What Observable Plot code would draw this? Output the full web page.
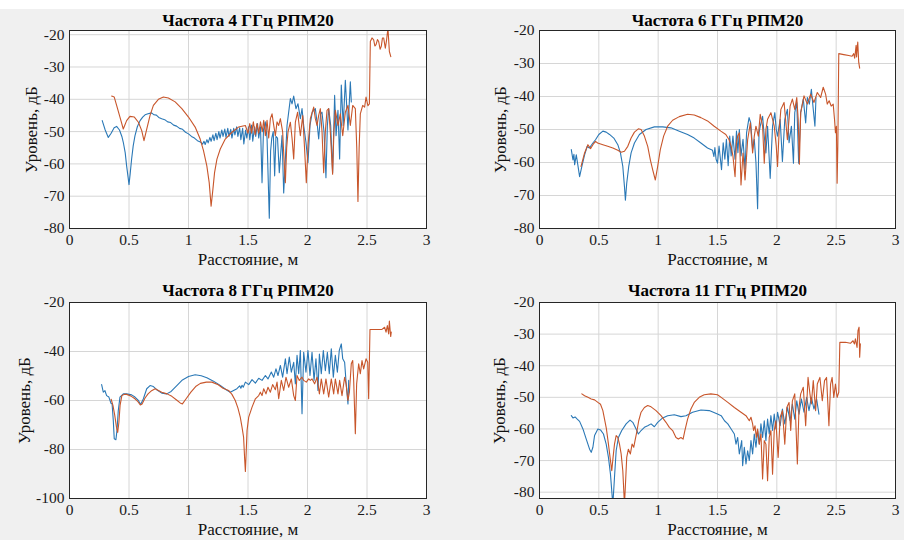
<!DOCTYPE html>
<html><head><meta charset="utf-8">
<script src="https://cdn.jsdelivr.net/npm/d3@7"></script>
<script src="https://cdn.jsdelivr.net/npm/@observablehq/plot@0.6"></script>
<style>
html,body{margin:0;padding:0;background:#f0f0f0;}
#wrap{position:relative;width:904px;height:540px;overflow:hidden;}
.topband{position:absolute;left:0;top:0;width:904px;height:9px;background:#fff;}
.cell{position:absolute;width:452px;height:270px;}
.cell svg, .cell svg text{font-family:"Liberation Serif","Times New Roman",serif !important;}
</style></head><body><div id="wrap"><div class="topband"></div></div>
<script>
// ---- Text ----
const titles = ["Частота 4 ГГц РПМ20", "Частота 6 ГГц РПМ20", "Частота 8 ГГц РПМ20", "Частота 11 ГГц РПМ20"];
const xLabel = "Расстояние, м";
const yLabel = "Уровень, дБ";
const xTicks = [0, 0.5, 1, 1.5, 2, 2.5, 3];
const yTicks10 = [-80, -70, -60, -50, -40, -30, -20];
const yTicks20 = [-100, -80, -60, -40, -20];

// ---- 4 GHz ---- [distance m, level dB]
const f4Blue = [[0.275,-46.6],[0.30,-49.5],[0.326,-51.8],[0.35,-50.5],[0.375,-48.8],[0.396,-48.4],[0.42,-49.5],[0.44,-51.5],[0.452,-53.3],[0.468,-56.5],[0.48,-60.6],[0.492,-64.0],[0.50,-66.4],[0.51,-63.0],[0.522,-58.5],[0.535,-54.5],[0.55,-51.3],[0.57,-48.5],[0.593,-46.6],[0.615,-45.5],[0.635,-44.8],[0.66,-44.5],[0.69,-44.2],[0.71,-44.8],[0.73,-44.9],[0.75,-45.6],[0.775,-46.0],[0.80,-46.3],[0.825,-47.0],[0.85,-47.2],[0.875,-48.0],[0.90,-48.3],[0.925,-49.0],[0.95,-49.3],[0.975,-50.2],[1.0,-50.7],[1.025,-51.5],[1.05,-52.0],[1.075,-52.8],[1.10,-53.2],[1.118,-53.9],[1.13,-53.0],[1.14,-54.0],[1.155,-52.5],[1.165,-53.5],[1.18,-51.8],[1.19,-53.0],[1.205,-51.0],[1.215,-52.8],[1.23,-50.5],[1.24,-52.5],[1.255,-50.0],[1.265,-52.0],[1.28,-49.5],[1.29,-51.5],[1.305,-49.2],[1.315,-51.8],[1.33,-49.0],[1.34,-51.5],[1.355,-49.3],[1.365,-52.0],[1.38,-49.0],[1.39,-51.0],[1.405,-48.5],[1.415,-51.5],[1.43,-48.8],[1.44,-52.5],[1.455,-49.0],[1.465,-53.8],[1.48,-49.5],[1.49,-52.0],[1.505,-48.5],[1.515,-52.5],[1.53,-48.0],[1.54,-53.0],[1.555,-48.5],[1.565,-51.5],[1.58,-47.5],[1.59,-52.0],[1.605,-48.5],[1.618,-65.8],[1.63,-49.5],[1.645,-47.0],[1.66,-52.0],[1.679,-76.8],[1.69,-56.0],[1.70,-52.0],[1.712,-50.0],[1.724,-63.7],[1.735,-51.5],[1.748,-52.0],[1.763,-62.7],[1.786,-51.2],[1.80,-69.0],[1.828,-48.1],[1.856,-39.8],[1.87,-41.4],[1.884,-39.0],[1.903,-42.9],[1.92,-41.4],[1.94,-46.0],[1.954,-42.9],[1.968,-48.1],[1.987,-53.3],[2.004,-59.6],[2.021,-48.1],[2.04,-44.0],[2.066,-42.9],[2.08,-47.1],[2.094,-52.3],[2.11,-44.5],[2.122,-44.0],[2.139,-50.2],[2.155,-64.3],[2.167,-48.1],[2.178,-42.9],[2.195,-48.1],[2.211,-62.7],[2.228,-38.8],[2.24,-51.3],[2.256,-43.4],[2.27,-58.5],[2.284,-35.6],[2.30,-48.1],[2.318,-34.1],[2.34,-49.5],[2.36,-34.6],[2.368,-40.8]];
const f4Orange = [[0.354,-39.0],[0.376,-39.3],[0.396,-41.9],[0.424,-45.5],[0.452,-49.2],[0.48,-46.6],[0.508,-45.3],[0.545,-45.5],[0.579,-47.1],[0.607,-49.7],[0.626,-52.8],[0.649,-49.2],[0.677,-45.0],[0.705,-41.9],[0.747,-40.0],[0.789,-39.3],[0.831,-39.6],[0.888,-40.8],[0.944,-42.9],[1.0,-45.5],[1.056,-48.6],[1.098,-52.3],[1.126,-55.9],[1.154,-60.6],[1.174,-65.8],[1.19,-73.1],[1.205,-67.9],[1.219,-62.7],[1.239,-58.5],[1.267,-55.4],[1.309,-52.3],[1.365,-50.2],[1.42,-48.6],[1.478,-48.1],[1.50,-50.5],[1.515,-47.5],[1.53,-50.5],[1.545,-47.0],[1.56,-51.0],[1.575,-47.5],[1.59,-50.5],[1.605,-47.0],[1.62,-50.0],[1.632,-46.5],[1.646,-51.3],[1.66,-46.5],[1.674,-52.0],[1.688,-46.0],[1.702,-44.5],[1.716,-48.0],[1.73,-51.3],[1.744,-47.0],[1.758,-48.1],[1.772,-46.0],[1.791,-50.0],[1.802,-58.0],[1.814,-65.8],[1.825,-55.0],[1.836,-50.2],[1.856,-47.1],[1.87,-52.0],[1.884,-58.5],[1.898,-47.1],[1.917,-44.0],[1.94,-51.3],[1.96,-45.0],[1.975,-55.0],[1.99,-65.8],[2.005,-54.0],[2.024,-46.0],[2.052,-42.4],[2.066,-46.0],[2.08,-48.1],[2.094,-45.0],[2.108,-42.9],[2.122,-50.0],[2.136,-62.7],[2.15,-50.0],[2.164,-43.4],[2.178,-42.9],[2.192,-50.2],[2.211,-63.2],[2.222,-50.0],[2.234,-43.4],[2.256,-48.1],[2.276,-44.5],[2.296,-51.3],[2.318,-44.0],[2.34,-41.9],[2.36,-48.1],[2.38,-41.9],[2.402,-42.9],[2.414,-55.0],[2.424,-71.6],[2.434,-55.0],[2.444,-44.5],[2.464,-41.9],[2.48,-42.4],[2.492,-39.3],[2.508,-42.0],[2.52,-41.4],[2.528,-22.1],[2.542,-21.0],[2.556,-21.6],[2.566,-23.5],[2.576,-23.1],[2.588,-21.5],[2.598,-22.1],[2.61,-24.5],[2.62,-23.6],[2.63,-21.0],[2.64,-21.0],[2.654,-24.2],[2.665,-21.5],[2.676,-18.0],[2.688,-25.2],[2.70,-26.8]];

// ---- 6 GHz ----
const f6Blue = [[0.268,-56.1],[0.282,-59.2],[0.29,-57.5],[0.296,-60.7],[0.31,-57.7],[0.322,-60.5],[0.338,-64.3],[0.357,-61.2],[0.38,-57.7],[0.402,-55.1],[0.42,-55.6],[0.45,-54.1],[0.472,-53.1],[0.50,-51.5],[0.534,-50.5],[0.562,-50.8],[0.59,-51.5],[0.626,-52.6],[0.66,-54.6],[0.682,-57.1],[0.702,-61.2],[0.716,-67.3],[0.724,-71.4],[0.735,-66.3],[0.752,-61.2],[0.772,-57.1],[0.80,-54.1],[0.842,-51.5],[0.898,-50.0],[0.968,-49.2],[1.038,-49.2],[1.108,-49.5],[1.178,-50.5],[1.248,-51.5],[1.304,-52.6],[1.36,-54.1],[1.416,-55.6],[1.458,-56.3],[1.47,-58.2],[1.478,-55.5],[1.488,-59.0],[1.50,-60.2],[1.513,-55.0],[1.534,-62.2],[1.548,-54.0],[1.562,-59.0],[1.575,-53.0],[1.59,-61.0],[1.603,-52.0],[1.615,-58.0],[1.63,-52.0],[1.648,-59.0],[1.66,-50.5],[1.672,-57.0],[1.684,-50.0],[1.698,-58.0],[1.715,-53.0],[1.732,-62.0],[1.745,-51.0],[1.754,-49.0],[1.766,-46.4],[1.78,-48.0],[1.796,-56.0],[1.81,-53.0],[1.824,-60.0],[1.838,-74.0],[1.85,-51.0],[1.86,-49.0],[1.88,-46.0],[1.894,-52.0],[1.908,-57.1],[1.922,-49.0],[1.944,-64.8],[1.964,-49.0],[1.983,-44.9],[1.995,-50.0],[2.006,-52.0],[2.028,-46.9],[2.047,-59.7],[2.067,-46.9],[2.089,-43.9],[2.103,-54.0],[2.123,-49.0],[2.14,-60.2],[2.151,-44.9],[2.168,-41.8],[2.184,-60.2],[2.201,-44.9],[2.223,-40.8],[2.243,-48.0],[2.257,-40.3],[2.274,-42.3],[2.291,-37.8],[2.307,-43.9],[2.321,-49.0],[2.33,-40.3]];
const f6Orange = [[0.35,-61.2],[0.38,-57.1],[0.408,-54.6],[0.43,-55.8],[0.45,-54.6],[0.472,-53.6],[0.49,-54.1],[0.534,-54.6],[0.575,-55.1],[0.618,-55.6],[0.66,-56.3],[0.688,-56.9],[0.716,-56.6],[0.744,-55.1],[0.772,-52.6],[0.80,-50.8],[0.833,-49.8],[0.856,-50.0],[0.884,-52.0],[0.912,-55.1],[0.934,-59.2],[0.954,-62.2],[0.976,-65.3],[0.996,-61.2],[1.018,-56.1],[1.046,-52.0],[1.08,-49.0],[1.122,-47.2],[1.178,-46.1],[1.248,-45.4],[1.304,-45.6],[1.36,-46.4],[1.416,-47.4],[1.472,-49.0],[1.528,-50.5],[1.57,-51.5],[1.598,-53.1],[1.615,-55.1],[1.63,-58.0],[1.648,-64.3],[1.66,-54.0],[1.67,-52.0],[1.684,-51.0],[1.698,-66.8],[1.715,-57.1],[1.732,-65.3],[1.754,-53.1],[1.777,-48.0],[1.796,-57.1],[1.81,-52.0],[1.824,-49.0],[1.844,-52.0],[1.86,-45.4],[1.88,-49.0],[1.894,-60.2],[1.908,-50.0],[1.922,-46.9],[1.95,-44.9],[1.978,-49.0],[1.995,-55.0],[2.006,-61.2],[2.02,-50.0],[2.034,-43.9],[2.061,-41.8],[2.089,-53.1],[2.112,-42.9],[2.131,-40.8],[2.151,-43.9],[2.168,-40.3],[2.18,-47.0],[2.19,-60.5],[2.201,-44.9],[2.229,-39.8],[2.257,-42.3],[2.285,-39.3],[2.313,-41.8],[2.341,-38.8],[2.369,-40.3],[2.391,-37.2],[2.411,-39.3],[2.425,-42.3],[2.441,-41.3],[2.458,-42.9],[2.475,-42.3],[2.486,-46.9],[2.494,-51.0],[2.502,-49.0],[2.508,-66.3],[2.514,-55.1],[2.522,-27.0],[2.564,-27.3],[2.606,-27.6],[2.634,-27.8],[2.648,-27.0],[2.656,-28.4],[2.662,-26.5],[2.668,-24.5],[2.672,-28.0],[2.676,-26.0],[2.682,-23.5],[2.69,-29.6],[2.698,-31.4]];

// ---- 8 GHz ----
const f8Blue = [[0.27,-53.5],[0.284,-56.6],[0.298,-56.0],[0.312,-58.0],[0.331,-58.6],[0.348,-61.1],[0.358,-61.4],[0.368,-68.2],[0.376,-75.6],[0.39,-76.0],[0.399,-72.2],[0.41,-64.1],[0.424,-58.6],[0.452,-57.3],[0.48,-57.3],[0.522,-57.7],[0.55,-58.6],[0.579,-60.0],[0.598,-61.6],[0.621,-59.3],[0.649,-55.2],[0.677,-53.9],[0.705,-54.3],[0.733,-55.6],[0.775,-57.0],[0.817,-57.3],[0.854,-56.3],[0.902,-53.9],[0.949,-51.6],[1.0,-50.2],[1.056,-49.5],[1.107,-49.9],[1.154,-50.7],[1.21,-52.1],[1.267,-53.9],[1.317,-55.6],[1.351,-56.6],[1.379,-55.9],[1.407,-55.2],[1.43,-54.0],[1.44,-55.0],[1.45,-53.8],[1.46,-54.6],[1.478,-52.5],[1.506,-53.5],[1.534,-51.5],[1.562,-52.9],[1.59,-50.9],[1.618,-51.8],[1.646,-49.8],[1.668,-51.2],[1.696,-48.4],[1.716,-50.5],[1.735,-47.1],[1.752,-49.8],[1.772,-45.7],[1.791,-50.5],[1.814,-43.0],[1.828,-49.1],[1.847,-42.3],[1.864,-48.4],[1.884,-44.4],[1.898,-53.2],[1.912,-41.6],[1.926,-49.1],[1.94,-39.6],[1.954,-65.4],[1.968,-40.3],[1.987,-48.4],[2.004,-39.6],[2.021,-49.8],[2.038,-40.3],[2.055,-51.8],[2.071,-43.0],[2.088,-55.9],[2.1,-41.0],[2.116,-49.1],[2.133,-39.6],[2.15,-47.8],[2.167,-40.3],[2.183,-49.1],[2.2,-38.9],[2.217,-50.5],[2.234,-41.6],[2.251,-48.4],[2.267,-39.6],[2.284,-36.9],[2.296,-43.0],[2.312,-44.4],[2.324,-52.5],[2.34,-61.4],[2.346,-51.8]];
const f8Orange = [[0.35,-59.5],[0.365,-62.0],[0.38,-66.0],[0.395,-71.0],[0.405,-73.0],[0.415,-69.0],[0.425,-62.0],[0.44,-58.0],[0.46,-57.5],[0.48,-57.5],[0.52,-58.3],[0.55,-59.3],[0.575,-60.5],[0.595,-61.8],[0.61,-61.4],[0.635,-59.0],[0.66,-57.3],[0.69,-56.0],[0.72,-55.2],[0.775,-56.6],[0.82,-57.3],[0.86,-58.3],[0.90,-59.8],[0.93,-61.0],[0.949,-61.4],[0.98,-59.3],[1.02,-56.6],[1.06,-54.3],[1.10,-53.0],[1.15,-52.5],[1.197,-52.5],[1.25,-53.6],[1.29,-55.0],[1.337,-55.9],[1.365,-57.5],[1.393,-60.0],[1.415,-63.0],[1.435,-66.8],[1.45,-71.0],[1.463,-75.0],[1.472,-84.0],[1.478,-89.0],[1.484,-82.0],[1.492,-72.2],[1.506,-66.8],[1.534,-62.7],[1.562,-59.3],[1.59,-58.0],[1.604,-56.6],[1.618,-58.0],[1.632,-55.2],[1.651,-57.3],[1.668,-54.6],[1.688,-56.6],[1.707,-53.5],[1.73,-55.6],[1.744,-52.5],[1.758,-59.3],[1.78,-51.8],[1.80,-55.9],[1.819,-50.5],[1.842,-54.6],[1.864,-51.2],[1.884,-58.0],[1.898,-60.0],[1.912,-49.8],[1.931,-51.8],[1.954,-50.5],[1.968,-51.8],[1.99,-52.5],[2.01,-51.2],[2.024,-51.8],[2.038,-51.2],[2.06,-53.2],[2.08,-50.5],[2.1,-57.3],[2.116,-51.2],[2.136,-57.3],[2.155,-51.2],[2.178,-58.6],[2.2,-51.2],[2.22,-57.3],[2.234,-51.2],[2.256,-57.3],[2.27,-51.8],[2.29,-58.0],[2.312,-50.5],[2.324,-53.2],[2.34,-60.0],[2.352,-56.6],[2.368,-45.0],[2.38,-43.7],[2.388,-51.8],[2.402,-73.6],[2.413,-53.2],[2.43,-45.0],[2.444,-49.1],[2.458,-43.7],[2.472,-47.1],[2.492,-43.0],[2.506,-44.4],[2.514,-59.3],[2.525,-31.0],[2.556,-31.0],[2.598,-31.0],[2.626,-31.0],[2.648,-30.1],[2.66,-32.1],[2.671,-29.4],[2.682,-32.8],[2.688,-27.6],[2.699,-33.9],[2.704,-32.1]];

// ---- 11 GHz ----
const f11Blue = [[0.268,-55.8],[0.282,-56.5],[0.30,-56.2],[0.318,-56.9],[0.338,-57.6],[0.366,-60.0],[0.394,-63.2],[0.422,-66.4],[0.436,-67.4],[0.45,-65.8],[0.464,-62.1],[0.492,-60.0],[0.514,-60.3],[0.539,-61.6],[0.562,-64.8],[0.581,-69.0],[0.598,-74.3],[0.618,-84.0],[0.632,-75.3],[0.646,-66.9],[0.665,-62.7],[0.693,-60.5],[0.73,-58.4],[0.763,-57.2],[0.786,-57.9],[0.814,-60.0],[0.833,-61.6],[0.856,-60.5],[0.884,-59.5],[0.912,-59.0],[0.94,-58.4],[0.968,-59.3],[0.996,-57.9],[1.038,-56.5],[1.08,-55.8],[1.136,-55.5],[1.192,-56.1],[1.234,-55.8],[1.29,-54.7],[1.36,-54.0],[1.43,-54.2],[1.5,-55.3],[1.531,-55.8],[1.559,-57.4],[1.587,-58.4],[1.615,-60.0],[1.642,-61.6],[1.656,-64.8],[1.67,-62.7],[1.684,-67.9],[1.704,-63.7],[1.712,-71.6],[1.726,-65.8],[1.74,-71.1],[1.754,-66.9],[1.768,-70.0],[1.782,-63.7],[1.796,-67.9],[1.81,-61.6],[1.824,-65.8],[1.838,-60.5],[1.852,-64.8],[1.866,-58.4],[1.88,-62.7],[1.894,-57.4],[1.908,-63.7],[1.922,-56.9],[1.936,-61.6],[1.95,-55.8],[1.964,-60.5],[1.978,-55.3],[1.992,-60.0],[2.006,-54.7],[2.028,-59.0],[2.047,-53.7],[2.067,-58.4],[2.089,-53.2],[2.112,-57.4],[2.131,-52.1],[2.151,-56.9],[2.168,-51.1],[2.187,-55.3],[2.207,-50.5],[2.229,-54.7],[2.251,-50.0],[2.271,-54.2],[2.291,-50.0],[2.313,-53.7],[2.335,-50.5],[2.355,-55.3]];
const f11Orange = [[0.357,-48.9],[0.38,-49.5],[0.408,-50.0],[0.436,-50.5],[0.464,-50.8],[0.492,-51.6],[0.514,-52.2],[0.534,-54.2],[0.548,-56.9],[0.564,-60.0],[0.581,-64.8],[0.598,-70.0],[0.609,-73.2],[0.62,-69.0],[0.632,-64.8],[0.646,-62.1],[0.66,-62.7],[0.674,-64.8],[0.688,-67.9],[0.702,-73.2],[0.716,-84.0],[0.725,-77.0],[0.735,-69.0],[0.749,-66.4],[0.766,-67.9],[0.78,-64.8],[0.794,-65.8],[0.805,-63.7],[0.822,-60.5],[0.836,-57.4],[0.856,-54.7],[0.884,-53.2],[0.912,-52.6],[0.94,-53.0],[0.982,-54.2],[1.024,-55.8],[1.066,-57.9],[1.094,-59.5],[1.122,-60.5],[1.15,-62.7],[1.17,-63.2],[1.192,-62.7],[1.21,-63.2],[1.225,-60.5],[1.248,-56.9],[1.276,-53.7],[1.304,-51.6],[1.346,-50.0],[1.388,-49.2],[1.444,-48.9],[1.5,-49.2],[1.531,-50.0],[1.587,-51.6],[1.642,-53.2],[1.698,-54.7],[1.74,-55.8],[1.768,-57.4],[1.782,-56.3],[1.796,-58.4],[1.804,-60.5],[1.816,-59.0],[1.827,-62.7],[1.838,-60.0],[1.852,-64.8],[1.866,-61.6],[1.88,-75.8],[1.894,-63.7],[1.908,-64.8],[1.922,-76.4],[1.936,-62.7],[1.95,-60.5],[1.964,-74.3],[1.978,-60.5],[1.992,-57.4],[2.011,-69.0],[2.028,-56.3],[2.047,-54.2],[2.067,-64.8],[2.084,-53.2],[2.103,-51.6],[2.117,-60.5],[2.131,-51.1],[2.151,-48.9],[2.173,-71.1],[2.187,-53.2],[2.201,-48.9],[2.223,-46.8],[2.243,-59.0],[2.263,-43.7],[2.279,-48.9],[2.291,-52.1],[2.307,-44.7],[2.327,-54.2],[2.341,-45.8],[2.363,-43.7],[2.383,-51.1],[2.402,-44.7],[2.419,-43.7],[2.439,-59.0],[2.453,-45.8],[2.466,-43.7],[2.48,-50.0],[2.494,-45.8],[2.508,-50.0],[2.522,-48.4],[2.531,-32.6],[2.578,-32.6],[2.62,-32.9],[2.642,-32.1],[2.654,-33.1],[2.662,-31.5],[2.676,-34.2],[2.684,-28.9],[2.693,-27.8],[2.698,-37.3],[2.704,-33.1]];

// ---- layout / style ----
const BLUE = "#2a78b6";
const ORANGE = "#c8562b";
const FONT = "'Liberation Serif', 'Times New Roman', serif";

const panels = [
  {left: 0,   top: 0,   title: titles[0], blue: f4Blue,  orange: f4Orange,  yDomain: [-80, -18.7], yTicks: yTicks10, ml: 69, mr: 26, mt: 30, ylOff: -38, tDy: -10,  xlDy: 31},
  {left: 452, top: 0,   title: titles[1], blue: f6Blue,  orange: f6Orange,  yDomain: [-80, -20],   yTicks: yTicks10, ml: 87, mr: 9,  mt: 30, ylOff: -39, tDy: -9.5, xlDy: 31},
  {left: 0,   top: 270, title: titles[2], blue: f8Blue,  orange: f8Orange,  yDomain: [-100, -20],  yTicks: yTicks20, ml: 69, mr: 26, mt: 32, ylOff: -45, tDy: -11.5, xlDy: 31},
  {left: 452, top: 270, title: titles[3], blue: f11Blue, orange: f11Orange, yDomain: [-82, -20],   yTicks: yTicks10, ml: 87, mr: 9,  mt: 32, ylOff: -40, tDy: -11.5, xlDy: 31}
];

const wrap = document.getElementById("wrap");
const toRows = (arr) => arr.map(([d, v]) => ({d, v}));

for (const p of panels) {
  const chart = Plot.plot({
    width: 452, height: 270,
    marginLeft: p.ml, marginRight: p.mr, marginTop: p.mt, marginBottom: 42,
    style: {background: "transparent", fontFamily: FONT, fontSize: "16px", color: "#1a1a1a"},
    x: {domain: [0, 3]},
    y: {domain: p.yDomain},
    marks: [
      Plot.frame({fill: "white", stroke: null}),
      Plot.gridX(xTicks, {stroke: "#d6d6d6", strokeOpacity: 1}),
      Plot.gridY(p.yTicks, {stroke: "#d6d6d6", strokeOpacity: 1}),
      Plot.line(toRows(p.blue), {x: "d", y: "v", stroke: BLUE, strokeWidth: 1.1, clip: true}),
      Plot.line(toRows(p.orange), {x: "d", y: "v", stroke: ORANGE, strokeWidth: 1.1, clip: true}),
      Plot.frame({stroke: "#262626", strokeWidth: 1}),
      Plot.axisX(xTicks, {anchor: "bottom", tickSize: 0, tickPadding: 5, tickFormat: d => String(d), label: null, fontSize: 15.5, fontFamily: FONT}),
      Plot.axisY(p.yTicks, {anchor: "left", tickSize: 0, tickPadding: 5, tickFormat: d => String(d), label: null, fontSize: 15.5, fontFamily: FONT}),
      Plot.text([p.title], {frameAnchor: "top", dy: p.tDy, lineAnchor: "middle", textAnchor: "middle", fontWeight: "bold", fontSize: 17, fontFamily: FONT, fill: "#000"}),
      Plot.text([yLabel], {frameAnchor: "left", dx: p.ylOff, rotate: -90, lineAnchor: "middle", textAnchor: "middle", fontSize: 17, fontFamily: FONT, fill: "#111"}),
      Plot.text([xLabel], {frameAnchor: "bottom", dy: p.xlDy, lineAnchor: "middle", textAnchor: "middle", fontSize: 17, fontFamily: FONT, fill: "#111"})
    ]
  });
  const cell = document.createElement("div");
  cell.className = "cell";
  cell.style.left = p.left + "px";
  cell.style.top = p.top + "px";
  cell.appendChild(chart);
  wrap.appendChild(cell);
}
</script></body></html>
